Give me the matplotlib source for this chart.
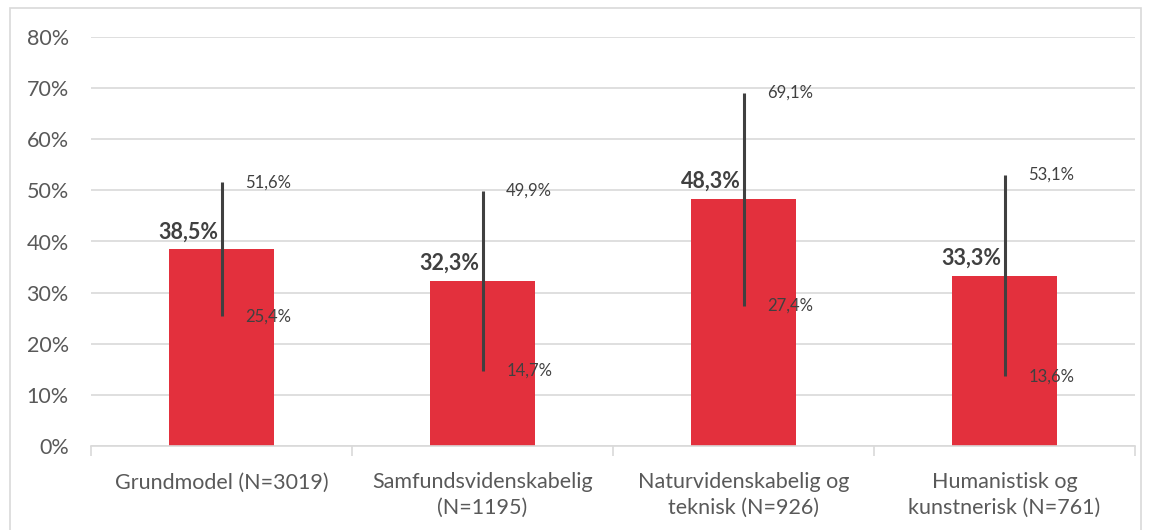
import matplotlib.pyplot as plt
import matplotlib.patches as patches
import numpy as np

categories = ['Grundmodel (N=3019)', 'Samfundsvidenskabelig\n(N=1195)',
              'Naturvidenskabelig og\nteknisk (N=926)', 'Humanistisk og\nkunstnerisk (N=761)']
means = [38.5, 32.3, 48.3, 33.3]
lower = [25.4, 14.7, 27.4, 13.6]
upper = [51.6, 49.9, 69.1, 53.1]


def pct(v):
    return f'{v:.1f}%'.replace('.', ',')


plt.rcParams['font.family'] = ['Lato', 'DejaVu Sans']

fig = plt.figure(figsize=(11.49, 5.30), dpi=100)
ax = fig.add_axes([91/1149, 1-446/530, (1135-91)/1149, (446-37)/530])

# outer frame
fig.patches.append(patches.Rectangle((10/1149, -0.01), 1131/1149, 1-8/530+0.01,
                                     transform=fig.transFigure, fill=False,
                                     edgecolor='#d9d9d9', linewidth=1.2))

x = np.arange(len(categories))
red = '#e3303d'
ax.bar(x, means, width=0.4, color=red, zorder=2)
ax.vlines(x, lower, upper, color='#404040', linewidth=2.2, zorder=3)

for xi, m, lo, hi in zip(x, means, lower, upper):
    ax.annotate(pct(m), (xi, m), xytext=(-2, 5), textcoords='offset points',
                ha='right', va='bottom', fontsize=15.5, fontweight='bold', color='#404040')
    ax.annotate(pct(hi), (xi, hi), xytext=(17, 0), textcoords='offset points',
                ha='left', va='center', fontsize=12, color='#404040')
    ax.annotate(pct(lo), (xi, lo), xytext=(17, 0), textcoords='offset points',
                ha='left', va='center', fontsize=12, color='#404040')

ax.set_xlim(-0.5, len(categories) - 0.5)
ax.set_ylim(0, 80)
ax.set_yticks(range(0, 81, 10))
ax.set_yticklabels([f'{v}%' for v in range(0, 81, 10)])
ax.yaxis.grid(True, color='#d9d9d9', linewidth=1.2, zorder=0)
ax.set_axisbelow(True)

for s in ['top', 'right', 'left']:
    ax.spines[s].set_visible(False)
ax.spines['bottom'].set_color('#d9d9d9')
ax.spines['bottom'].set_linewidth(1.2)

ax.set_xticks(x)
ax.set_xticklabels(categories, fontsize=15.5, color='#595959', linespacing=1.35)
ax.tick_params(axis='x', length=0, pad=19)
ax.set_xticks(np.arange(-0.5, len(categories)), minor=True)
ax.tick_params(axis='x', which='minor', length=7, color='#d9d9d9', width=1.2)
ax.tick_params(axis='y', length=0, labelsize=15.5, labelcolor='#595959', pad=16)

fig.savefig('out.png', dpi=100)
